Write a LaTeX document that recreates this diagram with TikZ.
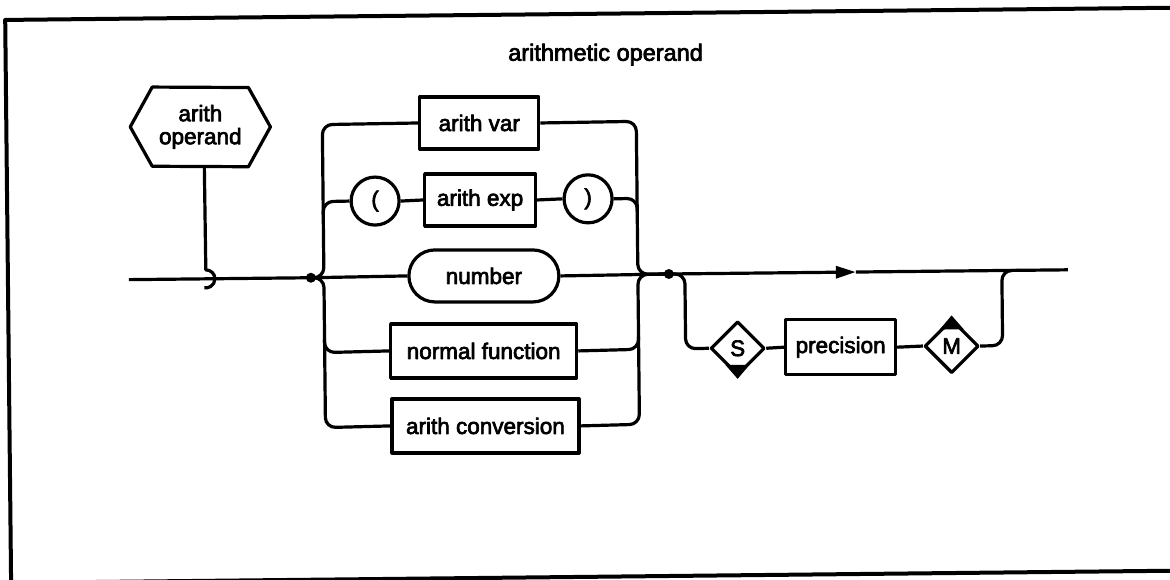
\documentclass[tikz,border=0pt]{standalone}
\usepackage{fontspec}
\setmainfont{Liberation Sans}
\newfontfamily\lblfont{Liberation Sans}[FakeBold=3]
\usetikzlibrary{shapes.geometric,arrows.meta}
\begin{document}
\begin{tikzpicture}[x=1pt,y=-1pt,
  line width=3.2pt, line join=round,
  lbl/.style={font=\lblfont\fontsize{22.5}{23}\selectfont},
  box/.style={draw, rectangle, lbl, inner sep=0pt},
  term/.style={draw, rectangle, rounded corners=26pt, lbl, inner sep=0pt},
  circ/.style={draw, circle, lbl, inner sep=0pt, minimum size=48pt},
  dia/.style={draw, diamond, aspect=1, lbl, inner sep=0pt, minimum width=54pt, minimum height=54pt},
  dot/.style={circle, fill, inner sep=0pt, minimum size=10pt},
  bus/.style={rounded corners=10pt}]
\useasboundingbox (0,0) rectangle (1170,580);
\clip (0,0) rectangle (1170,580);
\begin{scope}[rotate=0.6]
% frame
\draw[line width=4pt] (1250,20) -- (5,20) -- (5,583) -- (1250,583);
% title
\node[font=\lblfont\fontsize{23.5}{25}\selectfont] (title) at (605,61) {arithmetic operand};
% hexagon
\node[lbl, align=center, inner sep=0pt, minimum width=137pt, minimum height=76pt] (hex) at (199,129) {arith\\operand};
\draw (hex.west) -- ([xshift=22pt]hex.north west) -- ([xshift=-22pt]hex.north east) -- (hex.east) -- ([xshift=-22pt]hex.south east) -- ([xshift=22pt]hex.south west) -- cycle;
\coordinate (hk) at (203,272);
\draw ([xshift=4pt]hex.south) -- (hk) arc[start angle=90, end angle=-100, radius=9pt];
% nodes
\node[box, minimum width=119pt, minimum height=52pt] (av) at (478,128) {arith var};
\node[circ] (lp) at (373,205) {(};
\node[box, minimum width=111pt, minimum height=52pt] (ae) at (478,205) {arith exp};
\node[circ] (rp) at (586,205) {)};
\node[term, minimum width=150pt, minimum height=52pt] (num) at (481,281) {number};
\node[box, minimum width=186pt, minimum height=54pt] (nf) at (480,356) {normal function};
\node[box, minimum width=187pt, minimum height=54pt] (ac) at (481,431) {arith conversion};
\node[dot] (dotL) at (308,281) {};
\node[dot] (dotR) at (666,281) {};
\node[dia] (S) at (734,356) {S};
\node[box, minimum width=110pt, minimum height=55pt] (prec) at (837,356) {precision};
\node[dia] (M) at (948,356) {M};
\coordinate (start) at (126,281);
\coordinate (arr) at (853,281);
\coordinate (endR) at (1065,281);
\coordinate (rj) at (1014,281);
% main line
\draw (start) -- (dotL.center);
\draw (dotL.center) -- (num.west);
\draw (num.east) -- (dotR.center);
\draw[-{Triangle[length=20pt,width=12pt]}] (dotR.center) -- (arr);
\draw (arr) -- (endR);
% left brace
\draw[bus] (av.west) -- (321,128) -- (321,281) -- (dotL.center);
\draw[bus] (dotL.center) -- (321,281) -- (321,431) -- (ac.west);
\draw[bus] (321,218) -- (321,205) -- (lp.west);
\draw[bus] (321,343) -- (321,356) -- (nf.west);
\draw (lp.east) -- (ae.west);
\draw (ae.east) -- (rp.west);
% right brace
\draw[bus] (av.east) -- (635,128) -- (635,281) -- (dotR.center);
\draw[bus] (ac.east) -- (635,431) -- (635,281) -- (dotR.center);
\draw[bus] (rp.east) -- (635,205) -- (635,218);
\draw[bus] (nf.east) -- (635,356) -- (635,343);
% precision loop
\draw[bus] (dotR.center) -- (682,281) -- (682,356) -- (S.west);
\draw (S.east) -- (prec.west);
\draw (prec.east) -- (M.west);
\draw[bus] (M.east) -- (999,356) -- (999,281) -- (rj);
\fill ([shift={(-12pt,12pt)}]S.south) -- ([yshift=-2pt]S.south) -- ([shift={(12pt,12pt)}]S.south) -- cycle;
\fill ([shift={(-12pt,-12pt)}]M.north) -- ([yshift=2pt]M.north) -- ([shift={(12pt,-12pt)}]M.north) -- cycle;
\end{scope}
\end{tikzpicture}
\end{document}
